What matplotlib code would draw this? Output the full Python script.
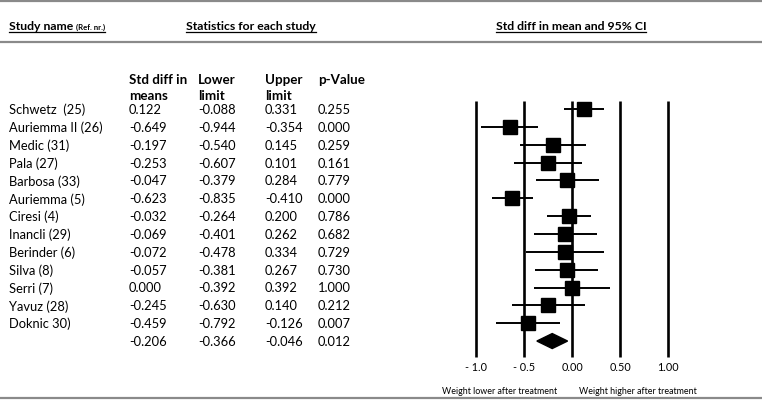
import matplotlib
matplotlib.use('Agg')
import matplotlib.pyplot as plt
import matplotlib.transforms as mtransforms
from matplotlib.lines import Line2D

plt.rcParams['font.family'] = ['Lato', 'DejaVu Sans']

# data
studies = ['Schwetz  (25)', 'Auriemma II (26)', 'Medic (31)', 'Pala (27)', 'Barbosa (33)',
           'Auriemma (5)', 'Ciresi (4)', 'Inancli (29)', 'Berinder (6)', 'Silva (8)',
           'Serri (7)', 'Yavuz (28)', 'Doknic 30)']
smd = [0.122, -0.649, -0.197, -0.253, -0.047, -0.623, -0.032, -0.069, -0.072, -0.057, 0.000, -0.245, -0.459]
lower = [-0.088, -0.944, -0.540, -0.607, -0.379, -0.835, -0.264, -0.401, -0.478, -0.381, -0.392, -0.630, -0.792]
upper = [0.331, -0.354, 0.145, 0.101, 0.284, -0.410, 0.200, 0.262, 0.334, 0.267, 0.392, 0.140, -0.126]
pvals = [0.255, 0.000, 0.259, 0.161, 0.779, 0.000, 0.786, 0.682, 0.729, 0.730, 1.000, 0.212, 0.007]

# pooled estimate
pooled_smd = -0.206
pooled_lower = -0.366
pooled_upper = -0.046
pooled_p = 0.012

ticks = [-1.0, -0.5, 0.0, 0.5, 1.0]
tick_labels = ['- 1.0', '- 0.5', '0.00', '0.50', '1.00']

W, H = 762, 402
fig = plt.figure(figsize=(W / 100, H / 100), dpi=100)
ax = fig.add_axes([0, 0, 1, 1])
# x in effect size units (0 at 572px, 96px per unit), y in row units (row 0 at 110px, 17.85px per row)
ax.set_xlim(-572 / 96, (W - 572) / 96)
ax.set_ylim((H - 110) / 17.85, -110 / 17.85)
ax.axis('off')

def fx(px):
    return px / W

def fy(py):
    return 1 - py / H

trans = mtransforms.blended_transform_factory(fig.transFigure, ax.transData)

# horizontal rules
for py in [2, 43, 399]:
    fig.add_artist(Line2D([0, 1], [fy(py), fy(py)], color='#8a8a8a', lw=1.6))

# headers
t1 = fig.text(fx(9), fy(26), 'Study name', fontsize=8.8, fontweight='bold', va='center')
fig.canvas.draw()
r = fig.canvas.get_renderer()
bb = t1.get_window_extent(r)
t1b = fig.text(bb.x1 / W + fx(3), fy(27), '(Ref. nr.)', fontsize=5.6, fontweight='bold', va='center')
t2 = fig.text(fx(251), fy(26), 'Statistics for each study', fontsize=8.8, fontweight='bold',
              va='center', ha='center')
t3 = fig.text(fx(571), fy(26), 'Std diff in mean and 95% CI', fontsize=8.8, fontweight='bold',
              va='center', ha='center')
fig.canvas.draw()
for a, b in [(t1, t1b), (t2, t2), (t3, t3)]:
    b1 = a.get_window_extent(r)
    b2 = b.get_window_extent(r)
    fig.add_artist(Line2D([b1.x0 / W, b2.x1 / W], [b1.y0 / H - 0.004, b1.y0 / H - 0.004],
                          color='black', lw=0.9))

col_x = [129, 198, 265, 318]
col_hdr = [('Std diff in', 'means'), ('Lower', 'limit'), ('Upper', 'limit'), ('p-Value', '')]
for x, (a, b) in zip(col_x, col_hdr):
    fig.text(fx(x), fy(80), a, fontsize=9.6, fontweight='bold', va='center')
    fig.text(fx(x), fy(96), b, fontsize=9.6, fontweight='bold', va='center')

# table rows
fs = 9.3
for i, name in enumerate(studies):
    ax.text(fx(9), i, name, transform=trans, fontsize=fs, va='center')
    for x, v in zip(col_x, [smd[i], lower[i], upper[i], pvals[i]]):
        ax.text(fx(x), i, f'{v:.3f}', transform=trans, fontsize=fs, va='center')
n = len(studies)
for x, v in zip(col_x, [pooled_smd, pooled_lower, pooled_upper, pooled_p]):
    ax.text(fx(x), n, f'{v:.3f}', transform=trans, fontsize=fs, va='center')

# forest plot
ax.vlines(ticks, -0.45, n + 0.9, color='black', lw=1.9)
rows = list(range(n))
ax.hlines(rows, lower, upper, color='black', lw=1.4)
ax.plot(smd, rows, 's', color='black', markersize=10, linestyle='none')
h = 0.42
ax.fill([pooled_lower, pooled_smd, pooled_upper, pooled_smd], [n, n - h, n, n + h], color='black')

for t, lab in zip(ticks, tick_labels):
    ax.text(t, n + 1.4, lab, fontsize=7.8, ha='center', va='center')

fig.text(fx(500), fy(392), 'Weight lower after treatment', fontsize=6.4, ha='center', va='center')
fig.text(fx(638), fy(392), 'Weight higher after treatment', fontsize=6.4, ha='center', va='center')

fig.savefig('out.png', dpi=100)
